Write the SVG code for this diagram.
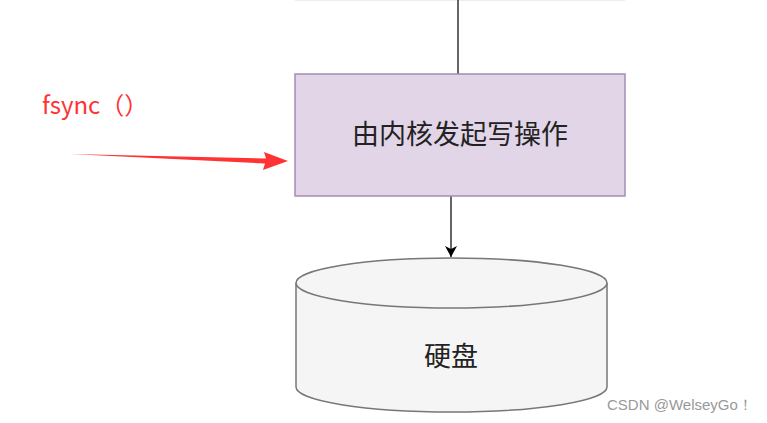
<svg xmlns="http://www.w3.org/2000/svg" width="767" height="423" viewBox="0 0 767 423">
<style>
.cjk{font-family:"Noto Sans CJK SC","Liberation Sans",sans-serif;fill:#222;}
.line{stroke:#333;stroke-width:1.5;fill:none;}
</style>
<defs>
<marker id="ah" markerWidth="12" markerHeight="12" refX="11" refY="6" orient="auto" markerUnits="userSpaceOnUse">
<path d="M0,0 L11,6 L0,12 L3,6 Z" fill="#000"/>
</marker>
</defs>
<rect width="767" height="423" fill="#fff"/>
<line x1="295" y1="0.5" x2="625" y2="0.5" stroke="#eee" stroke-width="1"/>
<g id="connectors">
<line class="line" x1="458" y1="0" x2="458" y2="74"/>
<line class="line" x1="451" y1="196" x2="451" y2="257" marker-end="url(#ah)"/>
<path d="M70,154 L266,158.5 L264,152 L288,161 L263,170 L265,163.5 Z" fill="#f33"/>
</g>
<g id="kernel">
<rect x="295" y="74" width="330" height="122" fill="#e1d5e7" stroke="#a68bb5" stroke-width="1.5"/>
<text class="cjk" x="460" y="144" font-size="27" text-anchor="middle">由内核发起写操作</text>
</g>
<g id="disk">
<path d="M296,283 L296,387 A155.5,25 0 0 0 607,387 L607,283" fill="#f5f5f5" stroke="#777" stroke-width="1.5"/>
<ellipse cx="451.5" cy="283" rx="155.5" ry="25" fill="#f5f5f5" stroke="#777" stroke-width="1.5"/>
<text class="cjk" x="451" y="366" font-size="27" text-anchor="middle">硬盘</text>
</g>
<g id="fsync">
<text x="42" y="114" font-family="Noto Sans CJK SC, Liberation Sans, sans-serif" font-size="24" fill="#f33">fsync（）</text>
</g>
<text x="607" y="410" font-family="Liberation Sans, sans-serif" font-size="15" fill="#999">CSDN @WelseyGo！</text>
</svg>
